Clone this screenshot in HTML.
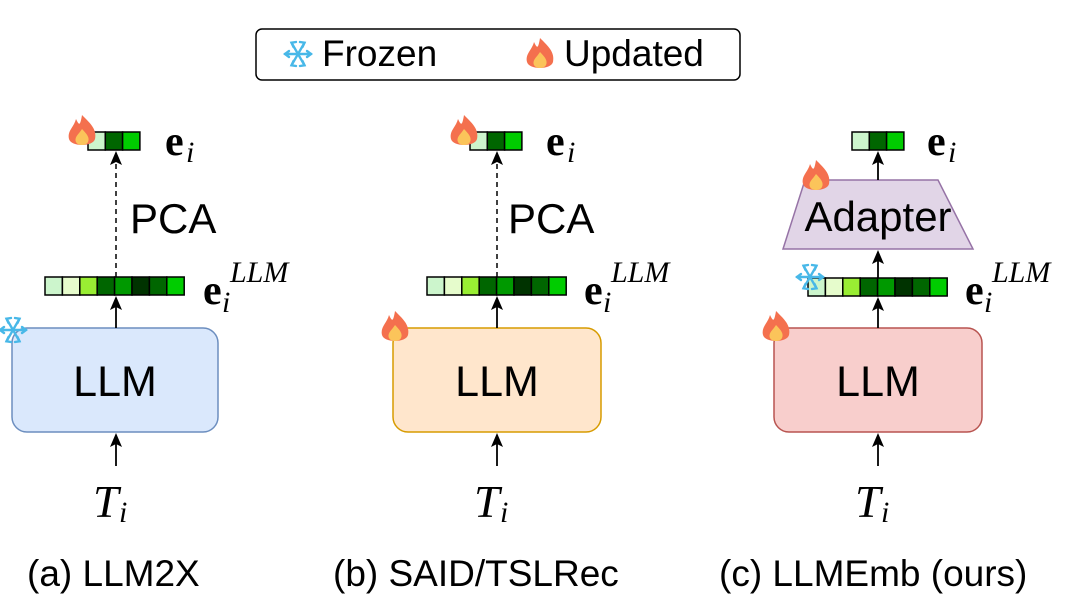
<!DOCTYPE html>
<html><head><meta charset="utf-8"><style>
html,body{margin:0;padding:0;background:#fff;}
svg{display:block;}
</style></head><body>
<svg width="1080" height="602" viewBox="0 0 1080 602" xmlns="http://www.w3.org/2000/svg">
<defs>
<g id="head"><path d="M0,0 L-6,14 L0,11 L6,14 Z" fill="#000"/></g>
<g id="flame">
<path d="M0,-16 C8,-8 15,-2 13,8 C11,16 -11,16 -13,8 C-15,0 -8,-4 -6,-12 C-3,-6 -2,-4 0,-16 Z" fill="#f4704e"/>
<path d="M0,-2 C5,3 8,7 6,11 C4,15 -4,15 -6,11 C-8,6 -3,3 0,-2 Z" fill="#fbc45a"/>
</g>
<g id="snow" stroke="#48b8e8" stroke-width="2.4" stroke-linecap="round">
<line x1="-13" y1="0" x2="13" y2="0"/><line x1="-6.5" y1="-11.3" x2="6.5" y2="11.3"/><line x1="-6.5" y1="11.3" x2="6.5" y2="-11.3"/>
<path d="M9,-3 L13,0 L9,3 M-9,-3 L-13,0 L-9,3 M2,-12 L6.5,-11.3 L4.5,-7 M-2,12 L-6.5,11.3 L-4.5,7 M-2,-12 L-6.5,-11.3 L-4.5,-7 M2,12 L6.5,11.3 L4.5,7" fill="none"/>
</g>
<g id="small">
<rect x="0" y="0" width="17.3" height="18" fill="#ccf5cc" stroke="#000" stroke-width="1.5"/>
<rect x="17.3" y="0" width="17.3" height="18" fill="#006600" stroke="#000" stroke-width="1.5"/>
<rect x="34.6" y="0" width="17.3" height="18" fill="#00cc00" stroke="#000" stroke-width="1.5"/>
</g>
<g id="big">
<rect x="0" y="0" width="17.4" height="18" fill="#ccf5cc" stroke="#000" stroke-width="1.5"/>
<rect x="17.4" y="0" width="17.4" height="18" fill="#e6fccc" stroke="#000" stroke-width="1.5"/>
<rect x="34.8" y="0" width="17.4" height="18" fill="#99ee33" stroke="#000" stroke-width="1.5"/>
<rect x="52.2" y="0" width="17.4" height="18" fill="#006600" stroke="#000" stroke-width="1.5"/>
<rect x="69.6" y="0" width="17.4" height="18" fill="#009900" stroke="#000" stroke-width="1.5"/>
<rect x="87" y="0" width="17.4" height="18" fill="#003300" stroke="#000" stroke-width="1.5"/>
<rect x="104.4" y="0" width="17.4" height="18" fill="#006600" stroke="#000" stroke-width="1.5"/>
<rect x="121.8" y="0" width="17.4" height="18" fill="#00cc00" stroke="#000" stroke-width="1.5"/>
</g>
</defs>

<!-- legend -->
<rect x="256" y="29" width="484" height="51" rx="6" fill="#fff" stroke="#000" stroke-width="1.5"/>
<use href="#snow" x="298" y="54"/>
<text x="322" y="66" font-family="Liberation Sans, sans-serif" font-size="37">Frozen</text>
<use href="#flame" x="540" y="54"/>
<text x="564" y="66" font-family="Liberation Sans, sans-serif" font-size="37">Updated</text>

<g font-family="Liberation Serif, serif">
<!-- Panel a -->
<rect x="12" y="328" width="206" height="104" rx="15" fill="#dae8fc" stroke="#6c8ebf" stroke-width="1.5"/>
<text x="115" y="396" text-anchor="middle" font-family="Liberation Sans, sans-serif" font-size="43">LLM</text>
<use href="#snow" x="13" y="330"/>
<use href="#big" x="45" y="277"/>
<use href="#small" x="88" y="132"/>
<use href="#flame" x="82" y="131"/>
<line x1="116" y1="328" x2="116" y2="300" stroke="#000" stroke-width="1.8"/><use href="#head" x="116" y="296"/>
<line x1="116" y1="277" x2="116" y2="160" stroke="#000" stroke-width="1.5" stroke-dasharray="5,4"/><use href="#head" x="116" y="151"/>
<line x1="116" y1="466" x2="116" y2="440" stroke="#000" stroke-width="1.8"/><use href="#head" x="116" y="433"/>
<text x="130" y="233" font-family="Liberation Sans, sans-serif" font-size="42">PCA</text>

<!-- Panel b -->
<rect x="393" y="328" width="208" height="104" rx="15" fill="#ffe6cc" stroke="#d79b00" stroke-width="1.5"/>
<text x="497" y="396" text-anchor="middle" font-family="Liberation Sans, sans-serif" font-size="43">LLM</text>
<use href="#flame" x="395" y="327"/>
<use href="#big" x="427" y="277"/>
<use href="#small" x="470" y="132"/>
<use href="#flame" x="464" y="131"/>
<line x1="497" y1="328" x2="497" y2="300" stroke="#000" stroke-width="1.8"/><use href="#head" x="497" y="296"/>
<line x1="497" y1="277" x2="497" y2="160" stroke="#000" stroke-width="1.5" stroke-dasharray="5,4"/><use href="#head" x="497" y="151"/>
<line x1="497" y1="466" x2="497" y2="440" stroke="#000" stroke-width="1.8"/><use href="#head" x="497" y="433"/>
<text x="508" y="233" font-family="Liberation Sans, sans-serif" font-size="42">PCA</text>

<!-- Panel c -->
<rect x="774" y="328" width="208" height="104" rx="15" fill="#f8cecc" stroke="#b85450" stroke-width="1.5"/>
<text x="878" y="396" text-anchor="middle" font-family="Liberation Sans, sans-serif" font-size="43">LLM</text>
<use href="#flame" x="776" y="327"/>
<use href="#big" x="808" y="278"/>
<use href="#snow" x="810" y="277"/>
<use href="#small" x="852" y="132"/>
<polygon points="805,180 938,180 973,249 783,249" fill="#e1d5e7" stroke="#9673a6" stroke-width="1.5"/>
<text x="878" y="231" text-anchor="middle" font-family="Liberation Sans, sans-serif" font-size="42">Adapter</text>
<use href="#flame" x="816" y="176"/>
<line x1="878" y1="328" x2="878" y2="302" stroke="#000" stroke-width="1.8"/><use href="#head" x="878" y="297"/>
<line x1="878" y1="278" x2="878" y2="256" stroke="#000" stroke-width="1.8"/><use href="#head" x="878" y="250"/>
<line x1="878" y1="180" x2="878" y2="158" stroke="#000" stroke-width="1.8"/><use href="#head" x="878" y="151"/>
<line x1="878" y1="466" x2="878" y2="440" stroke="#000" stroke-width="1.8"/><use href="#head" x="878" y="433"/>

<!-- labels e_i -->
<g font-size="42" font-weight="bold">
<text x="165" y="155">e</text><text x="546" y="155">e</text><text x="927" y="155">e</text>
<text x="203" y="304">e</text><text x="584" y="304">e</text><text x="965" y="304">e</text>
</g>
<g font-size="30" font-style="italic">
<text x="186" y="162">i</text><text x="567" y="162">i</text><text x="948" y="162">i</text>
<text x="222" y="312">i</text><text x="603" y="312">i</text><text x="984" y="312">i</text>
<text x="230" y="282">LLM</text><text x="611" y="282">LLM</text><text x="992" y="282">LLM</text>
</g>
<!-- T_i -->
<g font-size="46" font-style="italic">
<text x="93" y="517">T</text><text x="474" y="517">T</text><text x="855" y="517">T</text>
</g>
<g font-size="30" font-style="italic">
<text x="119" y="522">i</text><text x="500" y="522">i</text><text x="881" y="522">i</text>
</g>
</g>

<!-- captions -->
<g font-family="Liberation Sans, sans-serif" font-size="37">
<text x="27" y="586">(a) LLM2X</text>
<text x="333" y="586">(b) SAID/TSLRec</text>
<text x="719" y="586">(c) LLMEmb (ours)</text>
</g>
</svg>
</body></html>
